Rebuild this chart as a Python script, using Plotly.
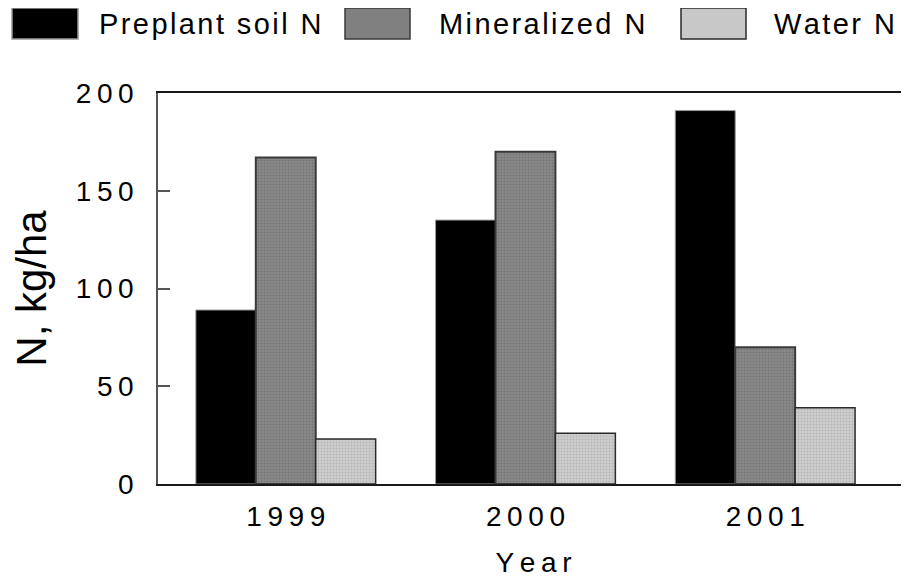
import plotly.graph_objects as go

years = ["1999", "2000", "2001"]
series_names = ["Preplant soil N", "Mineralized N", "Water N"]
preplant_soil_n = [89, 135, 191]
mineralized_n = [167, 170, 70]
water_n = [23, 26, 39]
y_ticks = [0, 50, 100, 150, 200]

FONT = "Liberation Sans, Arial, sans-serif"
SP = "\u2009"


def spaced(s, sep=SP):
    return sep.join(list(s))


fills = [
    dict(color="#000000", line=dict(color="#9a9a9a", width=1)),
    dict(color="#808080", line=dict(color="#3a3a3a", width=2),
         pattern=dict(shape=".", bgcolor="#8a8a8a", fgcolor="#5e5e5e", size=3, solidity=0.4)),
    dict(color="#c8c8c8", line=dict(color="#2a2a2a", width=1.5),
         pattern=dict(shape=".", bgcolor="#d0d0d0", fgcolor="#9a9a9a", size=3, solidity=0.4)),
]

fig = go.Figure()
for name, vals, mk in zip(series_names, [preplant_soil_n, mineralized_n, water_n], fills):
    fig.add_trace(go.Bar(x=years, y=vals, name=name, marker=mk, showlegend=False))

# page body has an 8px margin, so the figure is 8px smaller and offset
fig.update_layout(
    width=901, height=572,
    margin=dict(l=150, r=0, t=85, b=96, autoexpand=False),
    paper_bgcolor="white", plot_bgcolor="white",
    barmode="group", bargap=0.25, bargroupgap=0,
    font=dict(family=FONT, color="#000000"),
    xaxis=dict(
        type="category", range=[-0.533, 2.6], automargin=False,
        tickvals=years, ticktext=[spaced(y) for y in years],
        tickfont=dict(size=28), ticks="", ticklabelstandoff=6,
        showline=True, linecolor="#1a1a1a", linewidth=2, mirror=True,
        showgrid=False, zeroline=False,
        title=dict(text=spaced("Year"), font=dict(size=28), standoff=22),
    ),
    yaxis=dict(
        range=[0, 200], automargin=False,
        tickvals=y_ticks, ticktext=[spaced(str(v)) for v in y_ticks],
        tickfont=dict(size=28), ticks="inside", ticklen=12, tickcolor="#555555", tickwidth=1.5,
        ticklabelstandoff=17,
        showline=True, linecolor="#555555", linewidth=1.5,
        showgrid=False, zeroline=False,
        title=dict(text="N, kg/ha", font=dict(size=42), standoff=38),
    ),
)

# Legend drawn as layout shapes + annotations (page-pixel positions -> paper coords)
legend_boxes = [(12, 78), (345, 410), (681, 746)]
legend_text_x = [97, 437, 772]
for (x0, x1), tx, name, mk in zip(legend_boxes, legend_text_x, series_names, fills):
    fig.add_shape(type="rect", xref="paper", yref="paper",
                  x0=(x0 - 158) / 751, x1=(x1 - 158) / 751,
                  y0=(484 - 39) / 391, y1=(484 - 8) / 391,
                  fillcolor=mk["color"], line=dict(color=mk["line"]["color"], width=1.5))
    fig.add_annotation(xref="paper", yref="paper", x=(tx - 158) / 751, y=(484 - 23.5) / 391,
                       xanchor="left", yanchor="middle", showarrow=False,
                       text=spaced(name, "\u200a"), font=dict(size=29))

fig.write_html("out.html")
